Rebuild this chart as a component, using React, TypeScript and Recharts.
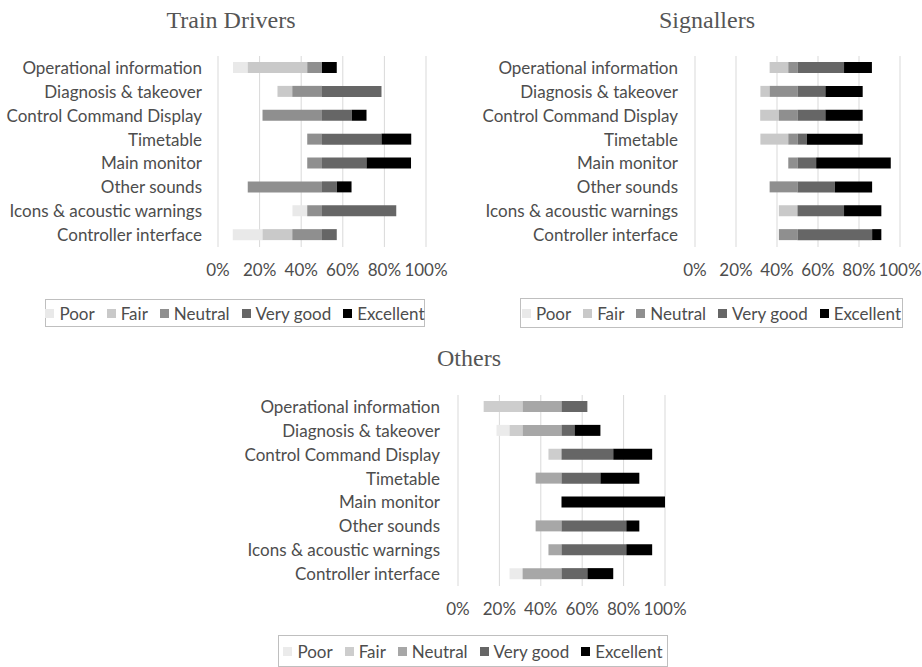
import React from 'react';
import { BarChart, Bar, XAxis, YAxis, CartesianGrid } from 'recharts';

// rating categories (top to bottom)
const categories = [
  'Operational information',
  'Diagnosis & takeover',
  'Control Command Display',
  'Timetable',
  'Main monitor',
  'Other sounds',
  'Icons & acoustic warnings',
  'Controller interface',
];

const seriesNames = ['Poor', 'Fair', 'Neutral', 'Very good', 'Excellent'];
const xTicks = [0, 20, 40, 60, 80, 100];

// Train Drivers (share in axis %)
const driversPoor = [7.1, 0, 0, 0, 0, 0, 7.1, 14.3];
const driversFair = [28.6, 7.1, 0, 0, 0, 0, 0, 14.3];
const driversNeutral = [7.1, 14.3, 28.6, 7.1, 7.1, 35.7, 7.1, 14.3];
const driversVeryGood = [0, 28.6, 14.3, 28.6, 21.4, 7.1, 35.7, 7.1];
const driversExcellent = [7.1, 0, 7.1, 14.3, 21.4, 7.1, 0, 0];

// Signallers
const signalPoor = [0, 0, 0, 0, 0, 0, 0, 0];
const signalFair = [9.1, 4.5, 9.1, 13.6, 0, 0, 9.1, 0];
const signalNeutral = [4.5, 13.6, 9.1, 4.5, 4.5, 13.6, 0, 9.1];
const signalVeryGood = [22.7, 13.6, 13.6, 4.5, 9.1, 18.2, 22.7, 36.4];
const signalExcellent = [13.6, 18.2, 18.2, 27.3, 36.4, 18.2, 18.2, 4.5];

// Others
const othersPoor = [0, 6.3, 0, 0, 0, 0, 0, 6.3];
const othersFair = [18.8, 6.3, 6.3, 0, 0, 0, 0, 0];
const othersNeutral = [18.8, 18.8, 0, 12.5, 0, 12.5, 6.3, 18.8];
const othersVeryGood = [12.5, 6.3, 25, 18.8, 0, 31.3, 31.3, 12.5];
const othersExcellent = [0, 12.5, 18.8, 18.8, 50, 6.3, 12.5, 12.5];

const darkColors = ['#e9e9e9', '#c9c9c9', '#8f8f8f', '#666666', '#000000'];
const lightColors = ['#ebebeb', '#cdcdcd', '#a7a7a7', '#666666', '#000000'];

const FONT = 'Lato, "Open Sans", sans-serif';
const TEXT = '#4d4d4d';

function buildRows(p: number[], f: number[], n: number[], vg: number[], ex: number[]) {
  return categories.map((name, i) => ({
    name,
    offset: 50 - p[i] - f[i] - n[i],
    Poor: p[i],
    Fair: f[i],
    Neutral: n[i],
    'Very good': vg[i],
    Excellent: ex[i],
  }));
}

interface PanelProps {
  title: string;
  rows: any[];
  colors: string[];
  left: number;
  top: number;
  yWidth: number;
  rightMargin: number;
  labelGap: number;
  titleCenter: number;
  titleTop: number;
  legend: { left: number; top: number; width: number; height: number };
}

function Panel({ title, rows, colors, left, top, yWidth, rightMargin, labelGap, titleCenter, titleTop, legend }: PanelProps) {
  return (
    <>
      <div
        style={{
          position: 'absolute',
          left: titleCenter - 200,
          top: titleTop,
          width: 400,
          textAlign: 'center',
          fontFamily: '"Liberation Serif", "Times New Roman", serif',
          fontSize: 24,
          lineHeight: '24px',
          color: '#555',
        }}
      >
        {title}
      </div>
      <div style={{ position: 'absolute', left, top }}>
        <BarChart
          width={461}
          height={290}
          data={rows}
          layout="vertical"
          margin={{ top: 56, right: rightMargin, left: 0, bottom: 13 }}
          style={{ fontFamily: FONT }}
        >
          <CartesianGrid horizontal={false} stroke="#d9d9d9" />
          <XAxis
            type="number"
            domain={[0, 100]}
            ticks={xTicks}
            interval={0}
            tickFormatter={(v) => `${v}%`}
            axisLine={false}
            tickLine={false}
            tickMargin={11}
            height={30}
            tick={{ fontSize: 17, fill: TEXT, fontFamily: FONT }}
          />
          <YAxis
            type="category"
            dataKey="name"
            width={yWidth}
            interval={0}
            axisLine={false}
            tickLine={false}
            tickMargin={labelGap}
            tick={{ fontSize: 17, fill: TEXT, fontFamily: FONT }}
          />
          <Bar dataKey="offset" stackId="s" fill="transparent" legendType="none" barSize={11} isAnimationActive={false} />
          {seriesNames.map((s, i) => (
            <Bar key={s} dataKey={s} stackId="s" fill={colors[i]} barSize={11} isAnimationActive={false} />
          ))}
        </BarChart>
      </div>
      <div
        style={{
          position: 'absolute',
          left: legend.left,
          top: legend.top,
          width: legend.width,
          height: legend.height,
          boxSizing: 'border-box',
          border: '1px solid #bfbfbf',
          display: 'flex',
          alignItems: 'center',
          justifyContent: 'center',
          fontFamily: FONT,
          fontSize: 17,
          color: TEXT,
          whiteSpace: 'nowrap',
        }}
      >
        {seriesNames.map((s, i) => (
          <span key={s} style={{ display: 'inline-flex', alignItems: 'center', marginRight: i < seriesNames.length - 1 ? 12 : 0 }}>
            <span style={{ display: 'inline-block', width: 9, height: 9, background: colors[i], marginRight: 5 }} />
            {s}
          </span>
        ))}
      </div>
    </>
  );
}

export default function App() {
  const drivers = buildRows(driversPoor, driversFair, driversNeutral, driversVeryGood, driversExcellent);
  const signallers = buildRows(signalPoor, signalFair, signalNeutral, signalVeryGood, signalExcellent);
  const others = buildRows(othersPoor, othersFair, othersNeutral, othersVeryGood, othersExcellent);

  return (
    <div style={{ position: 'absolute', left: 0, top: 0, width: 922, height: 667, background: '#fff', overflow: 'hidden' }}>
      <Panel
        title="Train Drivers"
        rows={drivers}
        colors={darkColors}
        left={0}
        top={0}
        yWidth={218}
        rightMargin={35}
        labelGap={10}
        titleCenter={231}
        titleTop={8}
        legend={{ left: 45, top: 299, width: 380, height: 28 }}
      />
      <Panel
        title="Signallers"
        rows={signallers}
        colors={darkColors}
        left={461}
        top={0}
        yWidth={234}
        rightMargin={22}
        labelGap={11}
        titleCenter={707}
        titleTop={8}
        legend={{ left: 520, top: 298, width: 383, height: 30 }}
      />
      <Panel
        title="Others"
        rows={others}
        colors={lightColors}
        left={230}
        top={339}
        yWidth={228}
        rightMargin={26}
        labelGap={12}
        titleCenter={469}
        titleTop={346}
        legend={{ left: 278, top: 635, width: 390, height: 32 }}
      />
    </div>
  );
}
